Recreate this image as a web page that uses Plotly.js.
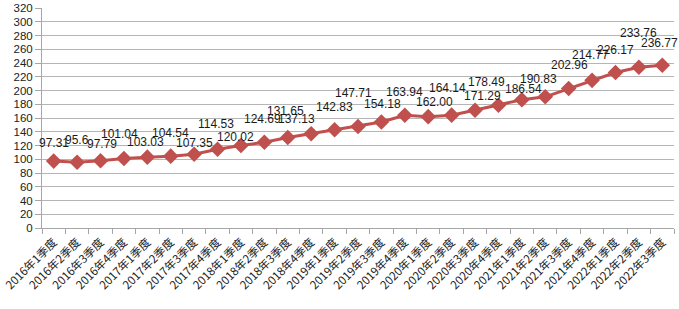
<!DOCTYPE html>
<html>
<head>
<meta charset="utf-8">
<script src="https://cdn.plot.ly/plotly-3.0.1.min.js"></script>
<style>
  html, body { margin: 0; padding: 0; background: #fff; }
  #chart { width: 679px; height: 309px; }
</style>
</head>
<body>
<div id="chart"></div>
<script>
// Data
const categories = [
  "2016年1季度","2016年2季度","2016年3季度","2016年4季度",
  "2017年1季度","2017年2季度","2017年3季度","2017年4季度",
  "2018年1季度","2018年2季度","2018年3季度","2018年4季度",
  "2019年1季度","2019年2季度","2019年3季度","2019年4季度",
  "2020年1季度","2020年2季度","2020年3季度","2020年4季度",
  "2021年1季度","2021年2季度","2021年3季度","2021年4季度",
  "2022年1季度","2022年2季度","2022年3季度"
];
const values = [
  97.31, 95.6, 97.79, 101.04,
  103.03, 104.54, 107.35, 114.53,
  120.02, 124.69, 131.65, 137.13,
  142.83, 147.71, 154.18, 163.94,
  162.00, 164.14, 171.29, 178.49,
  186.54, 190.83, 202.96, 214.77,
  226.17, 233.76, 236.77
];
const labelTexts = [
  "97.31","95.6","97.79","101.04",
  "103.03","104.54","107.35","114.53",
  "120.02","124.69","131.65","137.13",
  "142.83","147.71","154.18","163.94",
  "162.00","164.14","171.29","178.49",
  "186.54","190.83","202.96","214.77",
  "226.17","233.76","236.77"
];
const yTicks = [0,20,40,60,80,100,120,140,160,180,200,220,240,260,280,300,320];

// Label placement (pixel offsets, as the source's overlap-avoiding labels)
const labelDy = [18,22,17,25,15,23,11,25,8,23,26,15,23,33,18,23,15,27,14,23,11,18,23,25,23,34,22];
const labelDx = [0,0,1,-4,-2,0,0,-2,-5,-2,-2,-15,0,-5,1,0,6,-4,7,-12,2,-7,1,-2,0,0,-3];

const red = "#C0504D";
const trace = {
  type: "scatter",
  mode: "lines+markers",
  x: categories,
  y: values,
  line: { color: red, width: 3 },
  marker: { symbol: "diamond", size: 12, color: red },
  hoverinfo: "skip",
  showlegend: false
};

const annotations = categories.map((c, i) => ({
  x: c, y: values[i], xref: "x", yref: "y",
  text: labelTexts[i], showarrow: false,
  xanchor: "center", yanchor: "middle",
  xshift: labelDx[i], yshift: labelDy[i],
  font: { family: "Liberation Sans, Arial, sans-serif", size: 12, color: "#1a1a1a" }
}));

const layout = {
  width: 679, height: 309,
  margin: { l: 42, r: 5, t: 8, b: 81 },
  paper_bgcolor: "#fff", plot_bgcolor: "#fff",
  xaxis: {
    type: "category",
    range: [-0.5, 26.5],
    tickangle: -45,
    tickson: "boundaries",
    ticks: "outside", ticklen: 5, tickcolor: "#a6a6a6",
    ticklabelstandoff: 2,
    showgrid: false, zeroline: false,
    showline: true, linecolor: "#a6a6a6", linewidth: 1,
    tickfont: { family: "Noto Sans CJK SC, sans-serif", size: 11.5, color: "#222" },
    fixedrange: true
  },
  yaxis: {
    range: [0, 320],
    tickvals: yTicks,
    ticktext: yTicks.map(String),
    ticks: "outside", ticklen: 6, tickcolor: "#a6a6a6",
    showgrid: true, gridcolor: "#b5b5b5", gridwidth: 1,
    zeroline: false,
    showline: true, linecolor: "#a6a6a6", linewidth: 1,
    tickfont: { family: "Liberation Sans, Arial, sans-serif", size: 11.5, color: "#222" },
    fixedrange: true
  },
  annotations: annotations
};

Plotly.newPlot("chart", [trace], layout, { displayModeBar: false, staticPlot: true });
</script>
</body>
</html>
